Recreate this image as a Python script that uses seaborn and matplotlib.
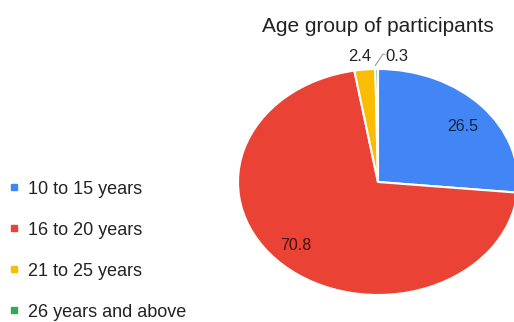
import numpy as np
import matplotlib
matplotlib.use("Agg")
import matplotlib.pyplot as plt
from matplotlib.lines import Line2D
import seaborn as sns

categories = ["10 to 15 years", "16 to 20 years", "21 to 25 years", "26 years and above"]
values = [26.5, 70.8, 2.4, 0.3]
colors = ["#4285F4", "#EA4335", "#FBBC04", "#34A853"]
title = "Age group of participants"

sns.set_theme(style="white")
plt.rcParams["font.family"] = ["Liberation Sans", "DejaVu Sans"]

fig = plt.figure(figsize=(5.14, 3.22), dpi=100)
W, H = 514, 322
cx, cy, rx, ry = 378, 182, 140, 113
ax = fig.add_axes([(cx - rx) / W, (H - cy - ry) / H, 2 * rx / W, 2 * ry / H])

wedges, _ = ax.pie(values, colors=colors, startangle=90, counterclock=False,
                   wedgeprops=dict(edgecolor="white", linewidth=1.5))
ax.set_aspect("auto")
ax.set_xlim(-1, 1)
ax.set_ylim(-1, 1)

for w, v in zip(wedges, values):
    ang = np.deg2rad((w.theta1 + w.theta2) / 2 - (3 if v < 50 else 3.5))
    if v > 10:
        r = 0.78 if v < 50 else 0.81
        ax.text(r * np.cos(ang), r * np.sin(ang), f"{v:.1f}", ha="center", va="center",
                fontsize=11.5, color="black", alpha=0.72)

# small slice labels outside
ax.text(-0.129, 1.115, f"{values[2]:.1f}", ha="center", va="center", fontsize=12,
        color="#222222", clip_on=False)
ax.text(0.05, 1.115, f"{values[3]:.1f}", ha="left", va="center", fontsize=12,
        color="#222222", clip_on=False)
ax.plot([-0.02, 0.035, 0.05], [1.03, 1.13, 1.13], color="#999999", lw=0.8, clip_on=False)

fig.text(cx / W, 1 - 32 / H, title, ha="center", va="baseline", fontsize=15, color="#222222")

handles = [Line2D([0], [0], marker="s", linestyle="none", markersize=4.5,
                  markerfacecolor=c, markeredgecolor=c) for c in colors]
leg = fig.legend(handles, categories, loc="upper left", bbox_to_anchor=(0.0105, 1 - 177 / H),
                 frameon=False, fontsize=13, labelspacing=1.33, handlelength=0.6,
                 handletextpad=0.45, borderaxespad=0, borderpad=0.2)
for t in leg.get_texts():
    t.set_color("#222222")

fig.savefig("out.png", dpi=100)
